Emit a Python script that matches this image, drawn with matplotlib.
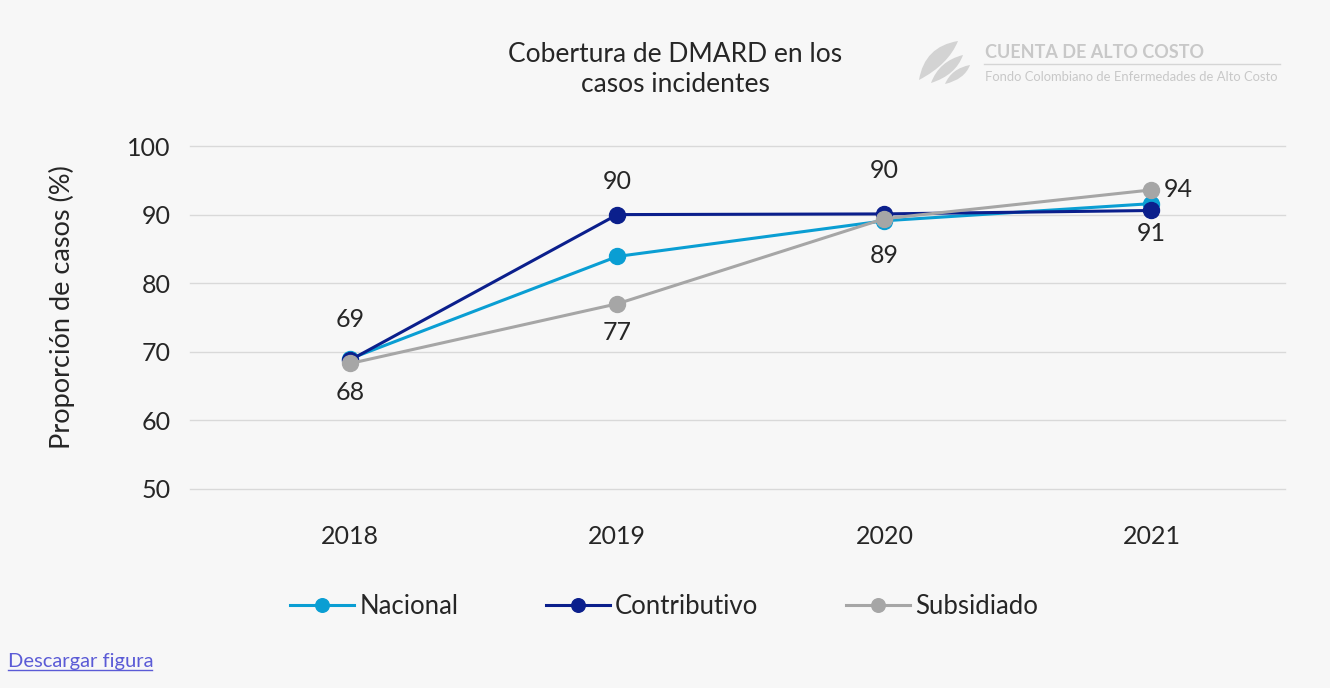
import matplotlib
matplotlib.use("Agg")
import matplotlib.pyplot as plt
from matplotlib.patches import PathPatch
from matplotlib.path import Path

plt.rcParams['font.family'] = ['Lato', 'DejaVu Sans']

years = ["2018", "2019", "2020", "2021"]
nacional = [69.0, 83.9, 89.1, 91.6]
contributivo = [68.8, 90.0, 90.1, 90.6]
subsidiado = [68.3, 77.0, 89.4, 93.6]
yticks = [50, 60, 70, 80, 90, 100]

c_nac = "#0a9ed3"
c_con = "#0b1f8c"
c_sub = "#a6a6a6"
bg = "#f7f7f7"
txt = "#262626"
W, H = 1330, 688

fig = plt.figure(figsize=(W / 100, H / 100), dpi=100, facecolor=bg)
ax = fig.add_axes([190 / W, 1 - 489 / H, 1095 / W, (489 - 146) / H])
ax.set_facecolor(bg)

x = list(range(len(years)))
for vals, col, name in [(nacional, c_nac, "Nacional"),
                        (contributivo, c_con, "Contributivo"),
                        (subsidiado, c_sub, "Subsidiado")]:
    ax.plot(x, vals, color=col, lw=2.2, marker="o", ms=11.5, label=name, zorder=3)

ax.set_xlim(-0.6, 3.5)
ax.set_ylim(50, 100)
ax.set_yticks(yticks)
ax.set_xticks(x)
ax.set_xticklabels(years)
ax.grid(axis="y", color="#d9d9d9", lw=1)
for gl in ax.get_ygridlines():
    gl.set_clip_on(False)
ax.set_axisbelow(True)
for s in ax.spines.values():
    s.set_visible(False)
ax.tick_params(length=0, labelsize=18, colors=txt)
ax.tick_params(axis="y", pad=14)
ax.tick_params(axis="x", pad=26)
ax.set_ylabel("Proporción de casos (%)", fontsize=19.5, color=txt)
ax.yaxis.set_label_coords(-0.105, 0.53)

# value labels: (series, index, dx px, dy px) relative to the marker
px = 72 / 100
labels = [(contributivo, 0, 0, -41), (subsidiado, 0, 0, 29),
          (contributivo, 1, 0, -33), (subsidiado, 1, 0, 29),
          (contributivo, 2, 0, -43), (subsidiado, 2, 0, 37),
          (subsidiado, 3, 27, 0), (contributivo, 3, 0, 23)]
for vals, i, dx, dy in labels:
    ax.annotate(f"{vals[i]:.0f}", (i, vals[i]), xytext=(dx * px, -dy * px),
                textcoords="offset points", ha="center", va="center",
                fontsize=18, color=txt)

leg = fig.legend(*ax.get_legend_handles_labels(), loc="center",
                 bbox_to_anchor=(664 / W, 1 - 606 / H),
                 ncol=3, frameon=False, fontsize=18.5, columnspacing=3.4,
                 handlelength=2.5, handletextpad=0.2, markerscale=0.85)
for t in leg.get_texts():
    t.set_color(txt)

fig.text(675 / W, 1 - 70 / H, "Cobertura de DMARD en los\ncasos incidentes",
         ha="center", va="center", fontsize=19, color=txt, linespacing=1.25)

# logo
lg = "#c8c8c8"
fig.text(985 / W, 1 - 52 / H, "CUENTA DE ALTO COSTO", fontsize=13, fontweight="bold",
         color=lg, va="center", ha="left")
fig.text(985 / W, 1 - 77 / H, "Fondo Colombiano de Enfermedades de Alto Costo",
         fontsize=9.4, color=lg, va="center", ha="left")
fig.add_artist(plt.Line2D([984 / W, 1280 / W], [1 - 64 / H, 1 - 64 / H],
                          color="#d5d5d5", lw=1, transform=fig.transFigure))


def leaf(x0, y0, x1, y1, outer, inner):
    # curved leaf shape between two tips, in figure pixels
    mx, my = (x0 + x1) / 2, (y0 + y1) / 2
    verts = [(x0, y0), (mx + outer[0], my + outer[1]), (x1, y1),
             (mx + inner[0], my + inner[1]), (x0, y0)]
    codes = [Path.MOVETO, Path.CURVE3, Path.CURVE3, Path.CURVE3, Path.CURVE3]
    verts = [(vx / W, 1 - vy / H) for vx, vy in verts]
    fig.add_artist(PathPatch(Path(verts, codes), facecolor="#d3d3d3", edgecolor="none",
                             transform=fig.transFigure))


leaf(919, 80, 958, 41, (-14, -14), (10, 4))
leaf(931, 83, 963, 55, (-8, -8), (9, 6))
leaf(945, 84, 970, 65, (-6, -6), (7, 5))

fig.text(8 / W, 1 - 661 / H, "Descargar figura", fontsize=14.5, color="#5b5bd6",
         va="center", ha="left")
fig.add_artist(plt.Line2D([8 / W, 152 / W], [1 - 670 / H, 1 - 670 / H],
                          color="#5b5bd6", lw=1, transform=fig.transFigure))

fig.savefig("out.png", dpi=100, facecolor=bg)
